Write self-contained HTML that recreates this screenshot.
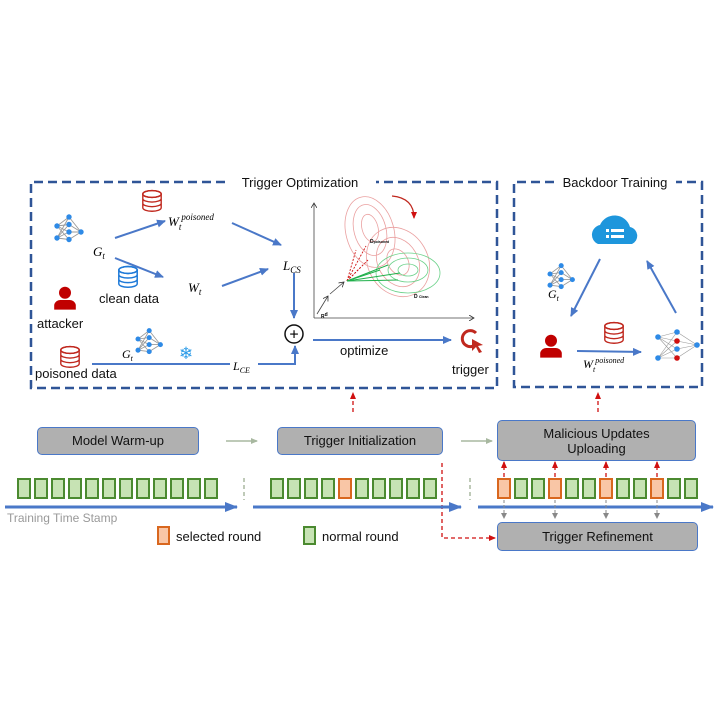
<!DOCTYPE html>
<html><head><meta charset="utf-8"><style>
body{margin:0;background:#fff}
svg text{font-family:"Liberation Sans",sans-serif}
.m{font-family:"Liberation Serif",serif;font-style:italic}
</style></head><body>
<svg width="720" height="720" viewBox="0 0 720 720" xmlns="http://www.w3.org/2000/svg" style="position:absolute;left:0;top:0">
<defs>
<marker id="ab" markerUnits="userSpaceOnUse" markerWidth="10" markerHeight="10" refX="8" refY="4" orient="auto"><path d="M0,0 L9,4 L0,8 z" fill="#4a78c8"/></marker>
<marker id="ar" markerUnits="userSpaceOnUse" markerWidth="8" markerHeight="8" refX="6" refY="3" orient="auto"><path d="M0,0 L7,3 L0,6 z" fill="#d01010"/></marker>
<marker id="ak" markerUnits="userSpaceOnUse" markerWidth="6" markerHeight="6" refX="5" refY="3" orient="auto"><path d="M0,0 L5,3 L0,6" fill="none" stroke="#333" stroke-width="0.8"/></marker>
<g id="net">
<g stroke="#999" stroke-width="0.6"><path d="M0,0 L8,-6 M0,0 L8,-1 M0,0 L8,4 M0,0 L8,9 M0,8 L8,-6 M0,8 L8,-1 M0,8 L8,4 M0,8 L8,9 M8,-6 L16,4 M8,-1 L16,4 M8,4 L16,4 M8,9 L16,4"/></g>
<g fill="#2e8ae6"><circle cx="0" cy="0" r="1.8"/><circle cx="0" cy="8" r="1.8"/><circle cx="8" cy="-6" r="1.8"/><circle cx="8" cy="-1" r="1.8"/><circle cx="8" cy="4" r="1.8"/><circle cx="8" cy="9" r="1.8"/><circle cx="16" cy="4" r="1.8"/></g>
</g>
<g id="db"><ellipse cx="0" cy="0" rx="8" ry="3" fill="#fff"/><path d="M-8,0 v12 a8,3 0 0 0 16,0 v-12 M-8,4 a8,3 0 0 0 16,0 M-8,8 a8,3 0 0 0 16,0" fill="none"/><ellipse cx="0" cy="0" rx="8" ry="3" fill="none"/></g>
<g id="usr"><circle cx="0" cy="-6" r="5"/><path d="M-9,8 v-4 a5,5 0 0 1 5,-4 h8 a5,5 0 0 1 5,4 v4 z"/></g>
</defs>

<path d="M225,182 H31 V388 H497 V182 H376" fill="none" stroke="#2f5597" stroke-width="2.5" stroke-dasharray="9,5"/>
<text x="300" y="187" font-size="13" text-anchor="middle" fill="#111">Trigger Optimization</text>
<path d="M554,182 H514 V387 H702 V182 H676" fill="none" stroke="#2f5597" stroke-width="2.5" stroke-dasharray="9,5"/>
<text x="615" y="187" font-size="13" text-anchor="middle" fill="#111">Backdoor Training</text>

<use href="#net" transform="translate(57,226) scale(1.5)"/>
<text x="93" y="256" class="m" font-size="13">G<tspan font-size="9" dy="3">t</tspan></text>
<g stroke="#c0281e" stroke-width="1.2"><use href="#db" transform="translate(152,194) scale(1.15)"/></g>
<text x="168" y="226" class="m" font-size="13">W<tspan font-size="9" dy="4">t</tspan><tspan font-size="9" dy="-10">poisoned</tspan></text>
<g stroke="#4a78c8" stroke-width="2" fill="none">
<line x1="115" y1="238" x2="165" y2="221" marker-end="url(#ab)"/>
<line x1="115" y1="258" x2="163" y2="277" marker-end="url(#ab)"/>
<line x1="222" y1="286" x2="268" y2="269" marker-end="url(#ab)"/>
<line x1="232" y1="223" x2="281" y2="245" marker-end="url(#ab)"/>
<line x1="294" y1="273" x2="294" y2="318" marker-end="url(#ab)"/>
<path d="M92,364 H230 M258,364 H295 V346" marker-end="url(#ab)"/>
<line x1="313" y1="340" x2="451" y2="340" marker-end="url(#ab)"/>
</g>
<g stroke="#1f7ad8" stroke-width="1.3"><use href="#db" transform="translate(128,270) scale(1.15)"/></g>
<text x="99" y="303" font-size="13" fill="#111">clean data</text>
<text x="188" y="292" class="m" font-size="13">W<tspan font-size="9" dy="3">t</tspan></text>
<text x="283" y="270" class="m" font-size="13">L<tspan font-size="9" dy="3">CS</tspan></text>
<circle cx="294" cy="334" r="9" fill="#fff" stroke="#111" stroke-width="1.5"/>
<text x="294" y="339.5" font-size="16" text-anchor="middle">+</text>
<g fill="#c00000"><use href="#usr" transform="translate(65,300) scale(1.2)"/></g>
<text x="37" y="328" font-size="13" fill="#111">attacker</text>
<g stroke="#c0281e" stroke-width="1.2"><use href="#db" transform="translate(70,350) scale(1.15)"/></g>
<text x="35" y="378" font-size="13" fill="#111">poisoned data</text>
<use href="#net" transform="translate(138,339) scale(1.4)"/>
<text x="122" y="358" class="m" font-size="12">G<tspan font-size="8" dy="3">t</tspan></text>
<text x="186" y="359" font-size="17" text-anchor="middle" fill="#2b9be8">❄</text>
<text x="233" y="370" class="m" font-size="12">L<tspan font-size="8" dy="3">CE</tspan></text>
<text x="340" y="355" font-size="13" fill="#111">optimize</text>
<path d="M476,333 A8,8 0 1 0 477,343" fill="none" stroke="#c0281e" stroke-width="3"/>
<path d="M472,339 L483,345 L478,346 L482,352 L479,353 L476,347 L472,351 z" fill="#c0281e"/>
<text x="452" y="374" font-size="13" fill="#111">trigger</text>

<g stroke="#444" stroke-width="0.8" fill="none">
<line x1="314" y1="318" x2="314" y2="203" marker-end="url(#ak)"/>
<line x1="314" y1="318" x2="474" y2="318" marker-end="url(#ak)"/>
<line x1="317" y1="314" x2="328" y2="296" marker-end="url(#ak)"/>
<line x1="330" y1="294" x2="344" y2="282" marker-end="url(#ak)"/>
</g>
<text x="321" y="318" font-size="5" font-weight="bold">R<tspan dy="-2">d</tspan></text>
<g fill="none" stroke="#eaa0a0" stroke-width="0.8">
<ellipse cx="370" cy="228" rx="8" ry="14" transform="rotate(-15 370 228)"/>
<ellipse cx="370" cy="230" rx="16" ry="26" transform="rotate(-15 370 230)"/>
<ellipse cx="370" cy="232" rx="24" ry="36" transform="rotate(-15 370 232)"/>
<ellipse cx="398" cy="262" rx="10" ry="14" transform="rotate(-30 398 262)"/>
<ellipse cx="398" cy="262" rx="20" ry="26" transform="rotate(-30 398 262)"/>
<ellipse cx="398" cy="262" rx="30" ry="36" transform="rotate(-30 398 262)"/>
</g>
<g fill="none" stroke="#6cd28a" stroke-width="0.8">
<ellipse cx="408" cy="270" rx="10" ry="6"/>
<ellipse cx="408" cy="270" rx="20" ry="12"/>
<ellipse cx="408" cy="273" rx="32" ry="20"/>
</g>
<path d="M392,196 Q414,198 414,218" fill="none" stroke="#c0281e" stroke-width="1.2" marker-end="url(#ar)"/>
<g stroke="#d01010" stroke-width="0.9" stroke-dasharray="2,1.5">
<line x1="347" y1="281" x2="356" y2="250"/><line x1="347" y1="281" x2="366" y2="246"/><line x1="347" y1="281" x2="368" y2="260"/><line x1="347" y1="281" x2="360" y2="268"/>
</g>
<g stroke="#1fb04a" stroke-width="1">
<line x1="347" y1="281" x2="388" y2="265"/><line x1="347" y1="281" x2="400" y2="273"/><line x1="347" y1="281" x2="398" y2="280"/><line x1="347" y1="281" x2="380" y2="270"/>
</g>
<text x="370" y="243" font-size="5" font-weight="bold">D<tspan font-size="3.5">poisoned</tspan></text>
<text x="414" y="298" font-size="5" font-weight="bold">D <tspan font-size="3.5">Clean</tspan></text>

<path d="M598,244 a10,10 0 0 1 2,-19 a16,16 0 0 1 30,2 a9,9 0 0 1 2,17 z" fill="#1e96dc"/>
<rect x="606" y="229" width="3" height="3" fill="#fff"/><rect x="611" y="229" width="13" height="3" fill="#fff"/>
<rect x="606" y="235" width="3" height="3" fill="#fff"/><rect x="611" y="235" width="13" height="3" fill="#fff"/>
<use href="#net" transform="translate(550,274) scale(1.4)"/>
<text x="548" y="298" class="m" font-size="12">G<tspan font-size="8" dy="3">t</tspan></text>
<g stroke="#4a78c8" stroke-width="2">
<line x1="600" y1="259" x2="571" y2="316" marker-end="url(#ab)"/>
<line x1="676" y1="313" x2="647" y2="261" marker-end="url(#ab)"/>
<line x1="577" y1="351" x2="641" y2="352" marker-end="url(#ab)"/>
</g>
<g fill="#c00000"><use href="#usr" transform="translate(551,348) scale(1.2)"/></g>
<g stroke="#c0281e" stroke-width="1.2"><use href="#db" transform="translate(614,326) scale(1.15)"/></g>
<text x="583" y="368" class="m" font-size="12">W<tspan font-size="8" dy="4">t</tspan><tspan font-size="8" dy="-9">poisoned</tspan></text>
<g stroke="#999" stroke-width="0.6">
<path d="M658,337 L677,332 M658,337 L677,341 M658,337 L677,349 M658,337 L677,358 M658,358 L677,332 M658,358 L677,341 M658,358 L677,349 M658,358 L677,358 M677,332 L697,345 M677,341 L697,345 M677,349 L697,345 M677,358 L697,345"/>
</g>
<g><circle cx="658" cy="337" r="2.8" fill="#2e8ae6"/><circle cx="658" cy="358" r="2.8" fill="#2e8ae6"/><circle cx="677" cy="332" r="2.8" fill="#2e8ae6"/><circle cx="677" cy="341" r="2.8" fill="#d01010"/><circle cx="677" cy="349" r="2.8" fill="#2e8ae6"/><circle cx="677" cy="358" r="2.8" fill="#d01010"/><circle cx="697" cy="345" r="2.8" fill="#2e8ae6"/></g>

<g stroke="#d01010" stroke-width="1.3" stroke-dasharray="4,3" fill="none">
<line x1="353" y1="412" x2="353" y2="393" marker-end="url(#ar)"/>
<line x1="598" y1="412" x2="598" y2="393" marker-end="url(#ar)"/>
<path d="M442,463 V538 H495" marker-end="url(#ar)"/>
</g>
</svg>
<div style="position:absolute;left:0;top:0;width:720px;height:720px;font-family:'Liberation Sans',sans-serif">
<div style="position:absolute;left:37px;top:427px;width:160px;height:26px;background:#b0b0b0;border:1px solid #4a78c8;border-radius:5px;font-size:13px;text-align:center;line-height:26px;color:#111">Model Warm-up</div>
<div style="position:absolute;left:277px;top:427px;width:164px;height:26px;background:#b0b0b0;border:1px solid #4a78c8;border-radius:5px;font-size:13px;text-align:center;line-height:26px;color:#111">Trigger Initialization</div>
<div style="position:absolute;left:497px;top:420px;width:199px;height:41px;background:#b0b0b0;border:1px solid #4a78c8;border-radius:5px;font-size:13px;text-align:center;line-height:15px;padding-top:5px;box-sizing:border-box;color:#111">Malicious Updates<br>Uploading</div>
<div style="position:absolute;left:497px;top:522px;width:199px;height:27px;background:#b0b0b0;border:1px solid #4a78c8;border-radius:5px;font-size:13px;text-align:center;line-height:27px;color:#111">Trigger Refinement</div>
</div>
<svg width="720" height="720" style="position:absolute;left:0;top:0">
<defs>
<marker id="ab2" markerUnits="userSpaceOnUse" markerWidth="14" markerHeight="12" refX="12" refY="5" orient="auto"><path d="M0,0 L13,5 L0,10 z" fill="#4a78c8"/></marker>
<marker id="agg2" markerUnits="userSpaceOnUse" markerWidth="8" markerHeight="8" refX="6" refY="3" orient="auto"><path d="M0,0 L7,3 L0,6 z" fill="#a8b8a0"/></marker>
<marker id="ar2" markerUnits="userSpaceOnUse" markerWidth="8" markerHeight="8" refX="6" refY="3" orient="auto"><path d="M0,0 L7,3 L0,6 z" fill="#d01010"/></marker>
<marker id="ag2" markerUnits="userSpaceOnUse" markerWidth="8" markerHeight="8" refX="5" refY="3" orient="auto"><path d="M0,0 L6,3 L0,6 z" fill="#888"/></marker>
</defs>
<g stroke="#a8b8a0" stroke-width="1.5"><line x1="226" y1="441" x2="257" y2="441" marker-end="url(#agg2)"/><line x1="461" y1="441" x2="492" y2="441" marker-end="url(#agg2)"/></g>
<g stroke="#4a78c8" stroke-width="3"><line x1="5" y1="507" x2="237" y2="507" marker-end="url(#ab2)"/><line x1="253" y1="507" x2="461" y2="507" marker-end="url(#ab2)"/><line x1="478" y1="507" x2="713" y2="507" marker-end="url(#ab2)"/></g>
<g stroke="#aab8a0" stroke-width="1.5" stroke-dasharray="4,3"><line x1="244" y1="478" x2="244" y2="500"/><line x1="470" y1="478" x2="470" y2="500"/></g>
<g stroke="#d01010" stroke-width="1.3" stroke-dasharray="4,3">
<line x1="504" y1="477" x2="504" y2="462" marker-end="url(#ar2)"/>
<line x1="555" y1="477" x2="555" y2="462" marker-end="url(#ar2)"/>
<line x1="606" y1="477" x2="606" y2="462" marker-end="url(#ar2)"/>
<line x1="657" y1="477" x2="657" y2="462" marker-end="url(#ar2)"/>
</g>
<g stroke="#888" stroke-width="1" stroke-dasharray="3,2">
<line x1="504" y1="500" x2="504" y2="518" marker-end="url(#ag2)"/>
<line x1="555" y1="500" x2="555" y2="518" marker-end="url(#ag2)"/>
<line x1="606" y1="500" x2="606" y2="518" marker-end="url(#ag2)"/>
<line x1="657" y1="500" x2="657" y2="518" marker-end="url(#ag2)"/>
</g>
<text x="7" y="522" font-size="12" fill="#999" font-family="Liberation Sans">Training Time Stamp</text>
<rect x="158" y="527" width="11" height="17" fill="#f9c6a6" stroke="#d9671e" stroke-width="2"/>
<text x="176" y="541" font-size="13" fill="#111" font-family="Liberation Sans">selected round</text>
<rect x="304" y="527" width="11" height="17" fill="#c7e3b4" stroke="#4b8a30" stroke-width="2"/>
<text x="322" y="541" font-size="13" fill="#111" font-family="Liberation Sans">normal round</text>
<g stroke-width="2">
<rect x="18" y="479" width="12" height="19" fill="#c7e3b4" stroke="#4b8a30"/><rect x="35" y="479" width="12" height="19" fill="#c7e3b4" stroke="#4b8a30"/><rect x="52" y="479" width="12" height="19" fill="#c7e3b4" stroke="#4b8a30"/><rect x="69" y="479" width="12" height="19" fill="#c7e3b4" stroke="#4b8a30"/><rect x="86" y="479" width="12" height="19" fill="#c7e3b4" stroke="#4b8a30"/><rect x="103" y="479" width="12" height="19" fill="#c7e3b4" stroke="#4b8a30"/><rect x="120" y="479" width="12" height="19" fill="#c7e3b4" stroke="#4b8a30"/><rect x="137" y="479" width="12" height="19" fill="#c7e3b4" stroke="#4b8a30"/><rect x="154" y="479" width="12" height="19" fill="#c7e3b4" stroke="#4b8a30"/><rect x="171" y="479" width="12" height="19" fill="#c7e3b4" stroke="#4b8a30"/><rect x="188" y="479" width="12" height="19" fill="#c7e3b4" stroke="#4b8a30"/><rect x="205" y="479" width="12" height="19" fill="#c7e3b4" stroke="#4b8a30"/>
<rect x="271" y="479" width="12" height="19" fill="#c7e3b4" stroke="#4b8a30"/><rect x="288" y="479" width="12" height="19" fill="#c7e3b4" stroke="#4b8a30"/><rect x="305" y="479" width="12" height="19" fill="#c7e3b4" stroke="#4b8a30"/><rect x="322" y="479" width="12" height="19" fill="#c7e3b4" stroke="#4b8a30"/><rect x="339" y="479" width="12" height="19" fill="#f9c6a6" stroke="#d9671e"/><rect x="356" y="479" width="12" height="19" fill="#c7e3b4" stroke="#4b8a30"/><rect x="373" y="479" width="12" height="19" fill="#c7e3b4" stroke="#4b8a30"/><rect x="390" y="479" width="12" height="19" fill="#c7e3b4" stroke="#4b8a30"/><rect x="407" y="479" width="12" height="19" fill="#c7e3b4" stroke="#4b8a30"/><rect x="424" y="479" width="12" height="19" fill="#c7e3b4" stroke="#4b8a30"/>
<rect x="498" y="479" width="12" height="19" fill="#f9c6a6" stroke="#d9671e"/><rect x="515" y="479" width="12" height="19" fill="#c7e3b4" stroke="#4b8a30"/><rect x="532" y="479" width="12" height="19" fill="#c7e3b4" stroke="#4b8a30"/><rect x="549" y="479" width="12" height="19" fill="#f9c6a6" stroke="#d9671e"/><rect x="566" y="479" width="12" height="19" fill="#c7e3b4" stroke="#4b8a30"/><rect x="583" y="479" width="12" height="19" fill="#c7e3b4" stroke="#4b8a30"/><rect x="600" y="479" width="12" height="19" fill="#f9c6a6" stroke="#d9671e"/><rect x="617" y="479" width="12" height="19" fill="#c7e3b4" stroke="#4b8a30"/><rect x="634" y="479" width="12" height="19" fill="#c7e3b4" stroke="#4b8a30"/><rect x="651" y="479" width="12" height="19" fill="#f9c6a6" stroke="#d9671e"/><rect x="668" y="479" width="12" height="19" fill="#c7e3b4" stroke="#4b8a30"/><rect x="685" y="479" width="12" height="19" fill="#c7e3b4" stroke="#4b8a30"/>
</g>
</svg>
</body></html>
